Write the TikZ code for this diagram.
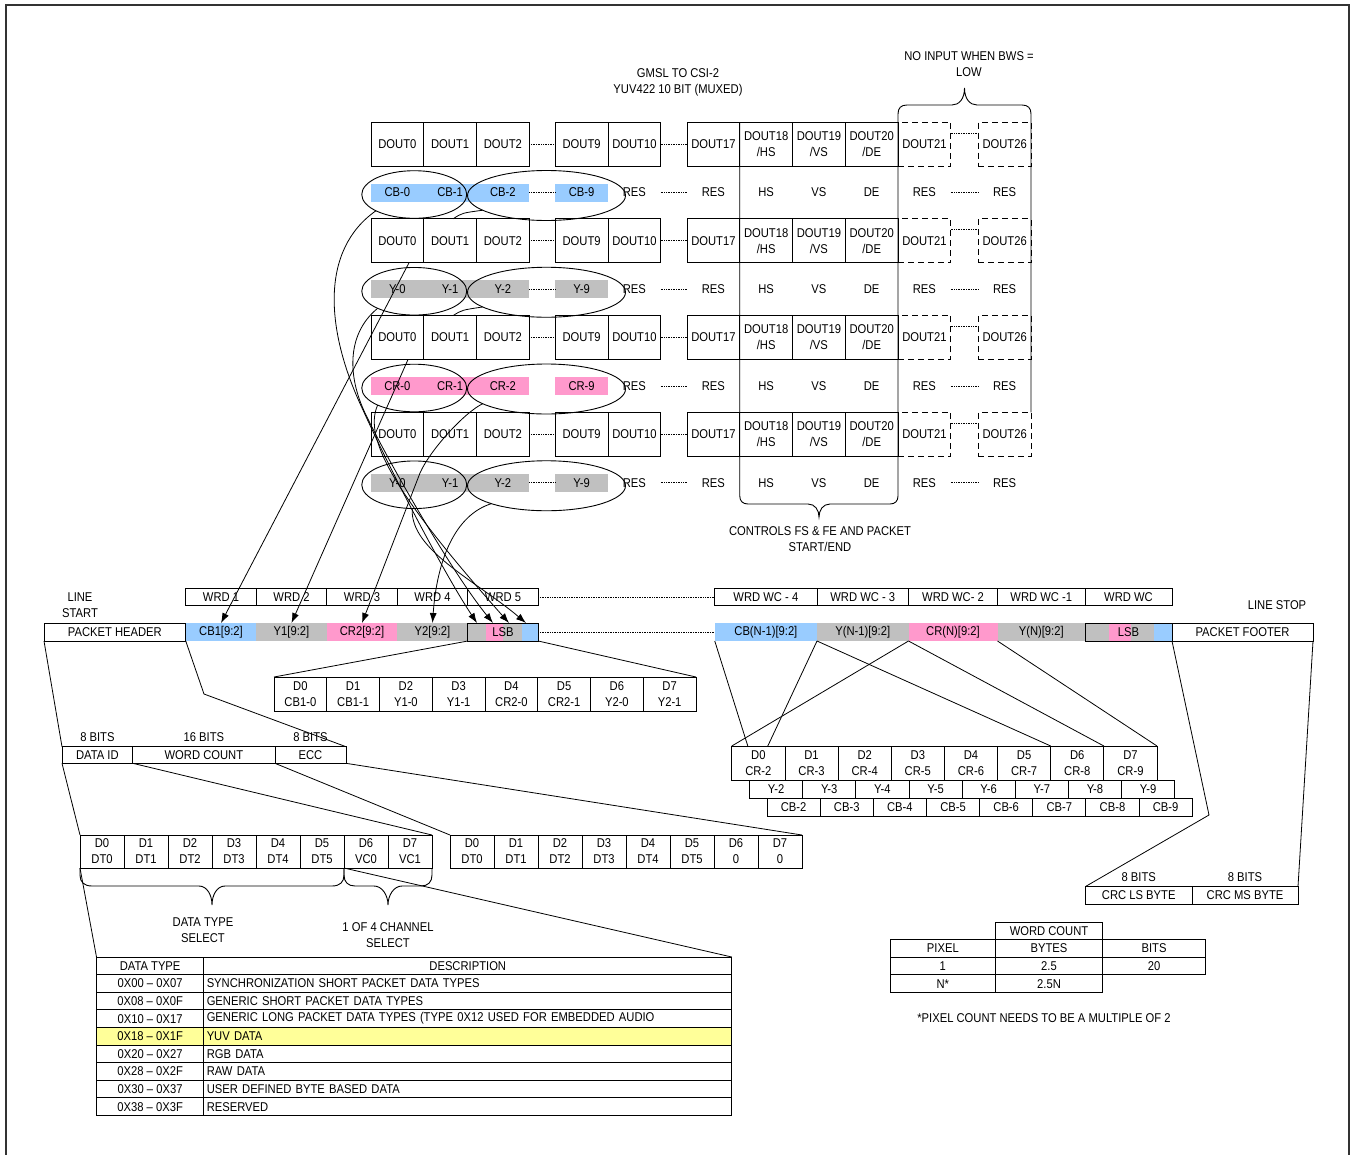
\documentclass[tikz,border=0pt]{standalone}
\usepackage{fontspec}
\setmainfont{Liberation Sans}[FakeStretch=0.88]
\usetikzlibrary{
	arrows.meta,
	positioning,
	calc,
	shapes.geometric
}
\definecolor{cbblue}{HTML}{99CCFF}
\definecolor{ygray}{HTML}{C0C0C0}
\definecolor{crpink}{HTML}{FF99CC}
\definecolor{rowyel}{HTML}{FFFF99}

\begin{document}
\begin{tikzpicture}[
		x=1pt, y=-1pt,
		every node/.style={font=\fontsize{12.75}{16}\selectfont, inner sep=0pt, outer sep=0pt},
		wire/.style={line width=0.8pt},
		arrow/.style={wire, -{Latex[length=10pt,width=7pt]}},
		dots/.style={densely dotted, line width=0.7pt},
		nodots/.style={draw=none},
		dout/.style={draw, line width=0.9pt, minimum width=52.75pt, minimum height=44pt, align=center},
		ghost/.style={dout, dash pattern=on 6pt off 4pt},
		oval/.style={draw, ellipse, line width=0.9pt},
		slot/.style={draw, line width=0.9pt, minimum height=17.5pt},
		seg/.style={minimum width=70.5pt, minimum height=18pt},
		bitcell/.style={draw, line width=0.9pt, minimum height=33pt, align=center},
		tcell/.style={draw, line width=0.8pt, minimum height=17.6pt},
		curly/.style={line width=0.9pt}
		]
		
		\useasboundingbox (0,0) rectangle (1351,1154);
		\draw[line width=1.5pt, black!80] (6,5) rectangle (1349,1190);
		
		\node[align=center] (title) at (678,82) {GMSL TO CSI-2\\YUV422 10 BIT (MUXED)};
		\node[align=center] (bwsnote) at (969,64) {NO INPUT WHEN BWS =\\LOW};
		\node[align=center] (ctrlnote) at (820,539) {CONTROLS FS \& FE AND PACKET\\START/END};
		
		% serializer outputs, four rows
		\foreach \r/\y in {1/144, 2/240.75, 3/337.5, 4/434.25} {
			\foreach \x/\t [count=\k] in {397.375/DOUT0, 450.125/DOUT1, 502.875/DOUT2, 581.625/DOUT9, 634.375/DOUT10, 713.375/DOUT17, 766.125/{DOUT18\\/HS}, 818.875/{DOUT19\\/VS}, 871.625/{DOUT20\\/DE}}
				\node[dout] (d\r-\k) at (\x,\y) {\t};
			\node[ghost] (d\r-10) at (924.375,\y) {DOUT21};
			\node[ghost] (d\r-11) at (1004.625,\y) {DOUT26};
			\draw[dots] (d\r-3) -- (d\r-4);
			\draw[dots] (d\r-5) -- (d\r-6);
			\draw[dots] ($(d\r-10.east)+(0,-11)$) -- ($(d\r-11.west)+(0,-11)$);
		}
		
		\foreach \r/\p/\c/\g in {1/CB/cbblue/dots, 2/Y/ygray/dots, 3/CR/crpink/nodots, 4/Y/ygray/dots} {
			\fill[\c] ($(d\r-1.south west)+(0,17.5)$) rectangle ($(d\r-3.south east)+(0,35.5)$);
			\fill[\c] ($(d\r-4.south west)+(0,17.5)$) rectangle ($(d\r-4.south east)+(0,35.5)$);
			\foreach \k/\n in {1/0, 2/1, 3/2, 4/9}
				\node (v\r-\n) at ($(d\r-\k)+(0,48.5)$) {\p-\n};
			\foreach \k/\t in {5/RES, 6/RES, 7/HS, 8/VS, 9/DE, 10/RES, 11/RES}
				\node (s\r-\k) at ($(d\r-\k)+(0,48.5)$) {\t};
			\node[oval, minimum width=105pt, minimum height=47.6pt] (oa\r) at ($(v\r-0)!.5!(v\r-1)+(-9.5,2)$) {};
			\node[oval, minimum width=158pt, minimum height=50pt] (ob\r) at ($(v\r-2)!.5!(v\r-9)+(4.25,3)$) {};
			\draw[\g] (d\r-3.east |- v\r-0) -- (d\r-4.west |- v\r-0);
			\draw[dots] (d\r-5.east |- v\r-0) -- (d\r-6.west |- v\r-0);
			\draw[dots] (d\r-10.east |- v\r-0) -- (d\r-11.west |- v\r-0);
		}
		
		\draw[curly] (d1-7.north west) -- (739.75,496) .. controls (739.75,501) and (742.75,504) .. (748,504) -- (808,504) .. controls (815,504) and (819,510) .. (819,517) .. controls (819,510) and (823,504) .. (830,504) -- (890,504) .. controls (895,504) and (898,501) .. (898,496) -- (d1-10.north west);
		\draw[curly] (d1-10.north west) -- (898,114) .. controls (898,108) and (901,105) .. (907,105) -- (952,105) .. controls (959,105) and (964.5,99) .. (964.5,88) .. controls (964.5,99) and (970,105) .. (977,105) -- (1022,105) .. controls (1028,105) and (1031,108) .. (1031,114) -- (d4-11.north east);
		
		% words and packet, left part
		\node[slot, minimum width=70.5pt] (wrd1) at (221,597) {WRD 1};
		\node[slot, minimum width=70.5pt, right=0pt of wrd1] (wrd2) {WRD 2};
		\node[slot, minimum width=70.5pt, right=0pt of wrd2] (wrd3) {WRD 3};
		\node[slot, minimum width=70.5pt, right=0pt of wrd3] (wrd4) {WRD 4};
		\node[slot, minimum width=70.5pt, right=0pt of wrd4] (wrd5) {WRD 5};
		
		\node[draw, line width=0.9pt, minimum width=141.75pt, minimum height=18pt] (pkhdr) at (114.875,632) {PACKET HEADER};
		\node[seg, fill=cbblue, right=0pt of pkhdr] (pk1) {CB1[9:2]};
		\node[seg, fill=ygray, right=0pt of pk1] (pk2) {Y1[9:2]};
		\node[seg, fill=crpink, right=0pt of pk2] (pk3) {CR2[9:2]};
		\node[seg, fill=ygray, right=0pt of pk3] (pk4) {Y2[9:2]};
		\fill[ygray] (pk4.south east) rectangle ++(18,-18);
		\fill[crpink] ($(pk4.south east)+(18,0)$) rectangle ++(17.25,-18);
		\fill[ygray] ($(pk4.south east)+(35.25,0)$) rectangle ++(18.75,-18);
		\fill[cbblue] ($(pk4.south east)+(54,0)$) rectangle ++(16.5,-18);
		\node[seg, draw, line width=0.9pt, right=0pt of pk4] (lsbL) {LSB};
		
		% words and packet, right part
		\node[slot, minimum width=102.25pt] (wrdR1) at (765.875,597) {WRD WC - 4};
		\node[slot, minimum width=91.5pt, right=0pt of wrdR1] (wrdR2) {WRD WC - 3};
		\node[slot, minimum width=89pt, right=0pt of wrdR2] (wrdR3) {WRD WC- 2};
		\node[slot, minimum width=87.5pt, right=0pt of wrdR3] (wrdR4) {WRD WC -1};
		\node[slot, minimum width=87pt, right=0pt of wrdR4] (wrdR5) {WRD WC};
		
		\node[seg, minimum width=102.25pt, fill=cbblue] (pkR1) at (765.875,632) {CB(N-1)[9:2]};
		\node[seg, minimum width=91.5pt, fill=ygray, right=0pt of pkR1] (pkR2) {Y(N-1)[9:2]};
		\node[seg, minimum width=89pt, fill=crpink, right=0pt of pkR2] (pkR3) {CR(N)[9:2]};
		\node[seg, minimum width=87.5pt, fill=ygray, right=0pt of pkR3] (pkR4) {Y(N)[9:2]};
		\fill[ygray] (pkR4.south east) rectangle ++(23.5,-18);
		\fill[crpink] ($(pkR4.south east)+(23.5,0)$) rectangle ++(22.5,-18);
		\fill[ygray] ($(pkR4.south east)+(46,0)$) rectangle ++(22.5,-18);
		\fill[cbblue] ($(pkR4.south east)+(68.5,0)$) rectangle ++(18.5,-18);
		\node[seg, minimum width=87pt, draw, line width=0.9pt, right=0pt of pkR4] (lsbR) {LSB};
		\node[draw, line width=0.9pt, minimum width=141pt, minimum height=18pt, right=0pt of lsbR] (pkftr) {PACKET FOOTER};
		
		\draw[dots] (wrd5) -- (wrdR1);
		\draw[dots] (lsbL) -- (pkR1);
		
		\node[align=center] (lnstart) at (80,605) {LINE\\START};
		\node (lnstop) at (1277,605) {LINE STOP};
		
		% header fields
		\node[slot, minimum width=70.8pt, minimum height=16.6pt] (dataid) at (97.4,755) {DATA ID};
		\node[slot, minimum width=142.2pt, minimum height=16.6pt, right=0pt of dataid] (wordcnt) {WORD COUNT};
		\node[slot, minimum width=71pt, minimum height=16.6pt, right=0pt of wordcnt] (ecc) {ECC};
		\node[above=5pt of dataid] (bitsA) {8 BITS};
		\node[above=5pt of wordcnt] (bitsB) {16 BITS};
		\node[above=5pt of ecc] (bitsC) {8 BITS};
		
		\foreach \b [count=\k from 0] in {CB1-0, CB1-1, Y1-0, Y1-1, CR2-0, CR2-1, Y2-0, Y2-1}
			\node[bitcell, minimum width=52.75pt, minimum height=34pt] (x\k) at (300.375+52.75*\k,694) {D\k\\\b};
		\foreach \b [count=\k from 0] in {DT0, DT1, DT2, DT3, DT4, DT5, VC0, VC1}
			\node[bitcell, minimum width=44pt] (dt\k) at (102+44*\k,851.5) {D\k\\\b};
		\foreach \b [count=\k from 0] in {DT0, DT1, DT2, DT3, DT4, DT5, 0, 0}
			\node[bitcell, minimum width=44pt] (ec\k) at (472+44*\k,851.5) {D\k\\\b};
		
		\draw[curly] (dt0.south west) -- (80,875) .. controls (80,882) and (84,886) .. (92,886) -- (199,886) .. controls (207,886) and (212,895) .. (212,905) .. controls (212,895) and (217,886) .. (225,886) -- (332,886) .. controls (340,886) and (344,882) .. (344,875) -- (dt6.south west);
		\draw[curly] (dt6.south west) -- (344,875) .. controls (344,882) and (348,886) .. (355,886) -- (374,886) .. controls (382,886) and (388,895) .. (388,905) .. controls (388,895) and (394,886) .. (402,886) -- (421,886) .. controls (428,886) and (432,882) .. (432,875) -- (dt7.south east);
		\node[align=center] (dtsel) at (203,930) {DATA TYPE\\SELECT};
		\node[align=center] (chsel) at (388,935) {1 OF 4 CHANNEL\\SELECT};
		
		% data type table
		\node[tcell, minimum width=107.25pt] (tya0) at (150.125,965.8) {DATA TYPE};
		\node[tcell, minimum width=528pt, right=0pt of tya0] (tyb0) {DESCRIPTION};
		\foreach \a/\b/\f [count=\k] in {0X00 – 0X07/SYNCHRONIZATION SHORT PACKET DATA TYPES/white, 0X08 – 0X0F/GENERIC SHORT PACKET DATA TYPES/white, 0X10 – 0X17/{GENERIC LONG PACKET DATA TYPES (TYPE 0X12 USED FOR EMBEDDED AUDIO}/white, 0X18 – 0X1F/YUV DATA/rowyel, 0X20 – 0X27/RGB DATA/white, 0X28 – 0X2F/RAW DATA/white, 0X30 – 0X37/USER DEFINED BYTE BASED DATA/white, 0X38 – 0X3F/RESERVED/white} {
			\node[tcell, minimum width=107.25pt, fill=\f] (tya\k) at (150.125,965.8+17.6*\k) {\a};
			\node[tcell, text width=522pt, inner xsep=3pt, align=left, fill=\f, right=0pt of tya\k] (tyb\k) {\b};
		}
		
		% footer side
		\foreach \k in {0,...,7} {
			\pgfmathtruncatemacro\n{\k+2}
			\node[bitcell, minimum width=53.15pt, minimum height=34pt] (rc\k) at (758.375+53.15*\k,763) {D\k\\CR-\n};
			\node[slot, minimum width=53.15pt, minimum height=18pt] (ry\k) at (776.075+53.15*\k,789) {Y-\n};
			\node[slot, minimum width=53.15pt, minimum height=18pt] (rb\k) at (793.575+53.15*\k,807) {CB-\n};
		}
		
		\node[slot, minimum width=106.5pt] (crcls) at (1138.75,895.25) {CRC LS BYTE};
		\node[slot, minimum width=106pt, right=0pt of crcls] (crcms) {CRC MS BYTE};
		\node[above=5pt of crcls] (bitsD) {8 BITS};
		\node[above=5pt of crcms] (bitsE) {8 BITS};
		
		% word count table
		\node[tcell, minimum width=106.6pt] (wchead) at (1049,930.8) {WORD COUNT};
		\node[tcell, minimum width=106.6pt, below=0pt of wchead] (bytes) {BYTES};
		\node[tcell, minimum width=105.7pt, left=0pt of bytes] (pixel) {PIXEL};
		\node[tcell, minimum width=103.4pt, right=0pt of bytes] (bits) {BITS};
		\node[tcell, minimum width=105.7pt, below=0pt of pixel] (px1) {1};
		\node[tcell, minimum width=106.6pt, below=0pt of bytes] (by1) {2.5};
		\node[tcell, minimum width=103.4pt, below=0pt of bits] (bi1) {20};
		\node[tcell, minimum width=105.7pt, below=0pt of px1] (pxn) {N*};
		\node[tcell, minimum width=106.6pt, below=0pt of by1] (byn) {2.5N};
		\node (wcnote) at (1044,1018) {*PIXEL COUNT NEEDS TO BE A MULTIPLE OF 2};
		
		% words into the packet
		\draw[wire] (ob1.193) .. controls (462,213) .. ($(d2-2.north west)+(29.5,0)$);
		\draw[arrow] ($(d2-1.south west)+(38,0)$) -- (pk1.north);
		\draw[wire] (ob2.193) .. controls (462,310) .. ($(d3-2.north west)+(29.5,0)$);
		\draw[arrow] ($(d3-1.south west)+(37,0)$) -- (pk2.north);
		\draw[arrow] (ob3.193) .. controls (465,412) and (430,450) .. (420,473) -- (pk3.north);
		\draw[arrow] (ob4.198) .. controls (455,515) and (437,560) .. (pk4.north);
		
		\draw[arrow] (oa1.203) .. controls (320,250) and (325,330) .. (363,410) .. controls (390,470) and (445,575) .. ($(lsbL.north)+(-26,0)$);
		\draw[arrow] (oa2.205) .. controls (345,335) and (348,380) .. (367,417) .. controls (385,455) and (450,570) .. ($(lsbL.north)+(-10,0)$);
		\draw[arrow] (oa3.205) .. controls (362,440) and (400,500) .. ($(lsbL.north)+(6,0)$);
		\draw[arrow] (oa4.265) .. controls (410,550) and (475,580) .. ($(lsbL.north)+(23,0)$);
		
		\draw[wire] (pkhdr.south west) -- (dataid.north west);
		\draw[wire] (pk1.south west) -- (204,694) -- (ecc.north east);
		\draw[wire] (lsbL.south west) -- (x0.north west);
		\draw[wire] (lsbL.south east) -- (x7.north east);
		\draw[wire] (dataid.south west) -- (dt0.north west);
		\draw[wire] (dataid.south east) -- (dt7.north east);
		\draw[wire] (wordcnt.south east) -- (ec0.north west);
		\draw[wire] (ecc.south east) -- (ec7.north east);
		\draw[wire] (dt0.south west) -- (tya0.north west);
		\draw[wire] (dt6.south west) -- (tyb0.north east);
		
		\draw[wire] (pkR1.south west) -- ($(rc0.north west)+(16,0)$);
		\draw[wire] (pkR2.south west) -- ($(rc0.north west)+(36,0)$);
		\draw[wire] (pkR2.south west) -- (rc6.north west);
		\draw[wire] (pkR3.south west) -- (rc0.north west);
		\draw[wire] (pkR3.south west) -- (rc7.north west);
		\draw[wire] (pkR4.south west) -- (rc7.north east);
		\draw[wire] (lsbR.south east) -- (1209,815) -- (crcls.north west);
		\draw[wire] (pkftr.south east) -- (crcms.north east);
		
	\end{tikzpicture}
\end{document}
